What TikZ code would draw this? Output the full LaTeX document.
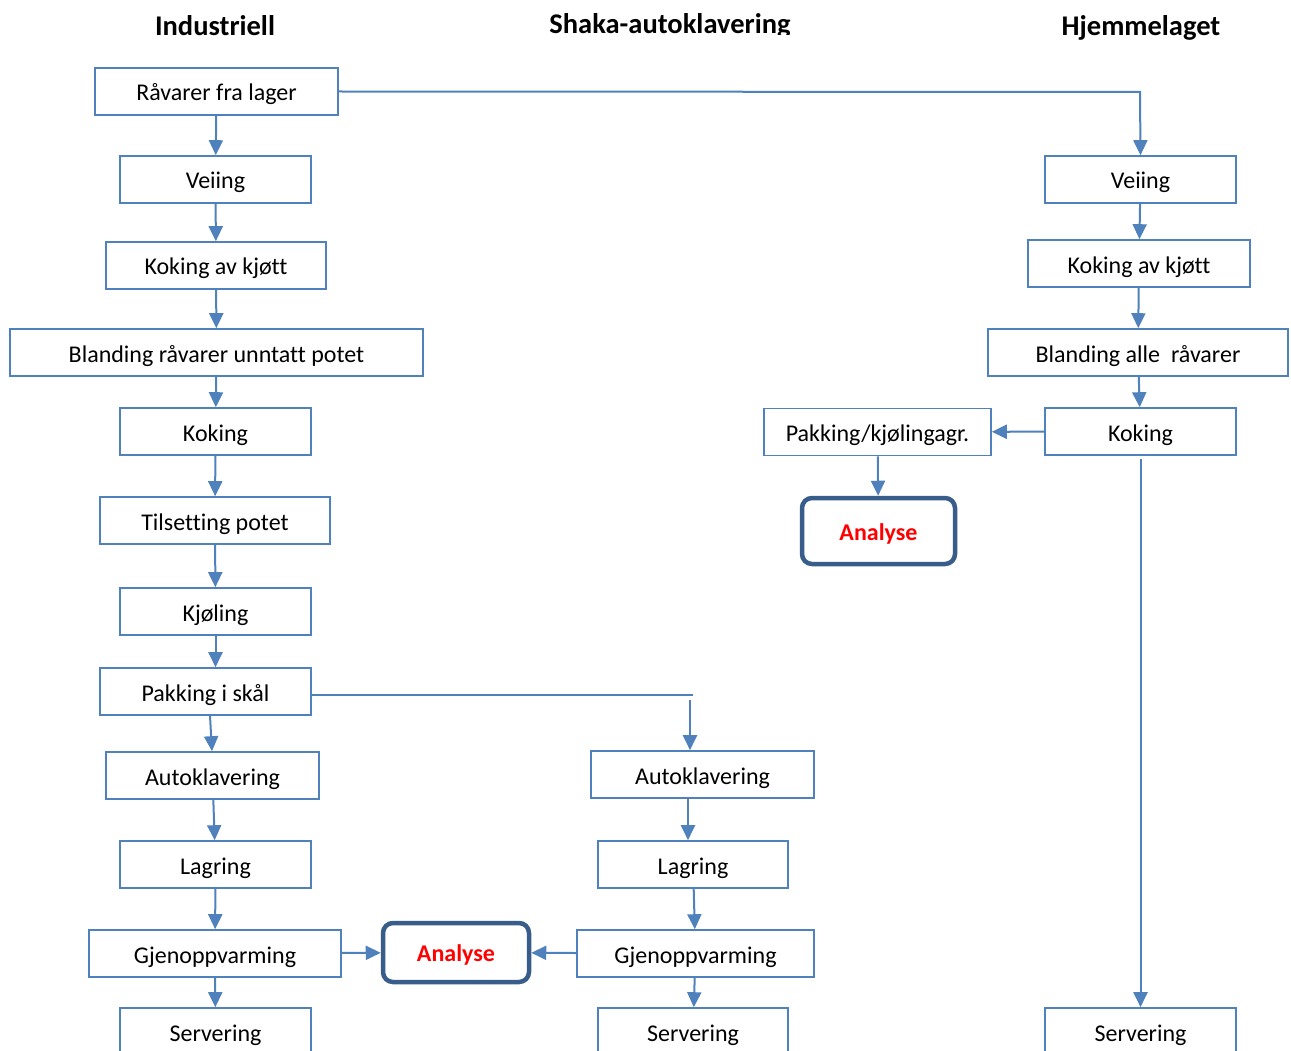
\documentclass[tikz,border=0pt]{standalone}
\usepackage{fontspec}
\setmainfont[Ligatures=CommonOff]{Carlito}
\usetikzlibrary{arrows.meta}

\tikzset{
  boks/.style={draw=boxColor, line width=1.6pt, minimum width=191pt, minimum height=47pt,
    inner sep=0pt, text height=19pt, text depth=0pt, font=\fontsize{24}{28}\selectfont},
  analyse/.style={draw=darkColor, line width=4.5pt, rounded corners=10pt, inner sep=0pt,
    text height=18pt, text depth=0pt, text=red, font=\fontsize{24}{28}\selectfont\bfseries},
  tittel/.style={anchor=base, inner sep=0pt, font=\fontsize{28.5}{34}\selectfont\bfseries},
  pil/.style={draw=boxColor, line width=2pt, -{Triangle[length=15pt,width=14pt]}},
  linje/.style={draw=boxColor, line width=2pt}
}

\begin{document}
\begin{tikzpicture}[x=1pt,y=-1pt]
\definecolor{boxColor}{RGB}{79,129,189}
\definecolor{darkColor}{RGB}{56,93,138}
\path[use as bounding box,fill=white] (0,0) rectangle (1291,1051);
\begin{scope}
\path[clip] (0,0) rectangle (1291,1051);

% overskrifter
\node[tittel] (hodeA) at (215,36) {Industriell};
\begin{scope}
\path[clip] (400,0) rectangle (900,35);
\node[tittel] (hodeB) at (670,34) {Shaka-autoklavering};
\end{scope}
\node[tittel] (hodeC) at (1141,36) {Hjemmelaget};

% industriell
\node[boks, minimum width=243pt] (lager) at (216.5, 91.5) {Råvarer fra lager};
\node[boks] (veiingA) at (215.5, 179.5) {Veiing};
\node[boks, minimum width=220pt] (kjottA) at (216, 265.5) {Koking av kjøtt};
\node[boks, minimum width=413pt] (blandA) at (216.5, 352.5) {Blanding råvarer unntatt potet};
\node[boks] (kokingA) at (215.5, 431.5) {Koking};
\node[boks, minimum width=230pt] (potetA) at (215, 520.5) {Tilsetting potet};
\node[boks] (kjolA) at (215.5, 611.5) {Kjøling};
\node[boks, minimum width=211pt] (pakkA) at (205.5, 691.5) {Pakking i skål};
\node[boks, minimum width=213pt] (autoA) at (212.5, 775.5) {Autoklavering};
\node[boks] (lagrA) at (215.5, 864.5) {Lagring};
\node[boks, minimum width=252pt] (gjenA) at (215, 953.5) {Gjenoppvarming};
\node[boks] (servA) at (215.5, 1031.5) {Servering};

% shaka
\node[boks, minimum width=223pt] (autoB) at (702.5, 774.5) {Autoklavering};
\node[boks, minimum width=190pt] (lagrB) at (693, 864.5) {Lagring};
\node[boks, minimum width=237pt] (gjenB) at (695.5, 953.5) {Gjenoppvarming};
\node[boks, minimum width=190pt] (servB) at (693, 1031.5) {Servering};
\node[analyse, minimum width=146pt, minimum height=59pt] (analyseB) at (456, 952.5) {Analyse};

% hjemmelaget
\node[boks] (veiingC) at (1140.5, 179.5) {Veiing};
\node[boks, minimum width=222pt] (kjottC) at (1139, 263.5) {Koking av kjøtt};
\node[boks, minimum width=300pt] (blandC) at (1138, 352.5) {Blanding alle\ \ råvarer};
\node[boks] (kokingC) at (1140.5, 431.5) {Koking};
\node[boks, minimum width=227pt] (pakkC) at (877.5, 432) {Pakking/kjølingagr.};
\node[analyse, minimum width=153pt, minimum height=66pt] (analyseC) at (878.5, 531) {Analyse};
\node[boks] (servC) at (1140.5, 1031.5) {Servering};

% piler
\draw[pil] (lager) -- (veiingA);
\draw[pil] (veiingA) -- (kjottA);
\draw[pil] (kjottA) -- (blandA);
\draw[pil] (blandA) -- (kokingA);
\draw[pil] (kokingA) -- (potetA);
\draw[pil] (potetA) -- (kjolA);
\draw[pil] (kjolA.south) -- (kjolA.south |- pakkA.north);
\draw[pil] (pakkA.south -| 210,0) -- (autoA.north -| 212,0);
\draw[pil] (autoA) -- (lagrA);
\draw[pil] (lagrA) -- (gjenA);
\draw[pil] (gjenA) -- (servA);
\draw[pil] (gjenA) -- (analyseB);

\coordinate (knekkB) at (693, 695);
\coordinate (startB) at (690, 700);
\draw[linje] (pakkA.east |- knekkB) -- (knekkB);
\draw[pil] (startB) -- (startB |- autoB.north);
\draw[pil] (autoB.south -| 688,0) -- (lagrB.north -| 688,0);
\draw[pil] (lagrB) -- (gjenB);
\draw[pil] (gjenB) -- (servB);
\draw[pil] (gjenB) -- (analyseB);

\coordinate (knekkC) at (1140, 92);
\draw[pil] (lager.east) -- (knekkC) -- (veiingC.north);
\draw[pil] (veiingC) -- (kjottC);
\draw[pil] (kjottC) -- (blandC);
\draw[pil] (blandC) -- (kokingC);
\draw[pil] (kokingC) -- (pakkC);
\draw[pil] (pakkC) -- (analyseC);
\draw[pil] (kokingC.south) ++(0,3) -- (servC.north);
\end{scope}
\end{tikzpicture}
\end{document}
